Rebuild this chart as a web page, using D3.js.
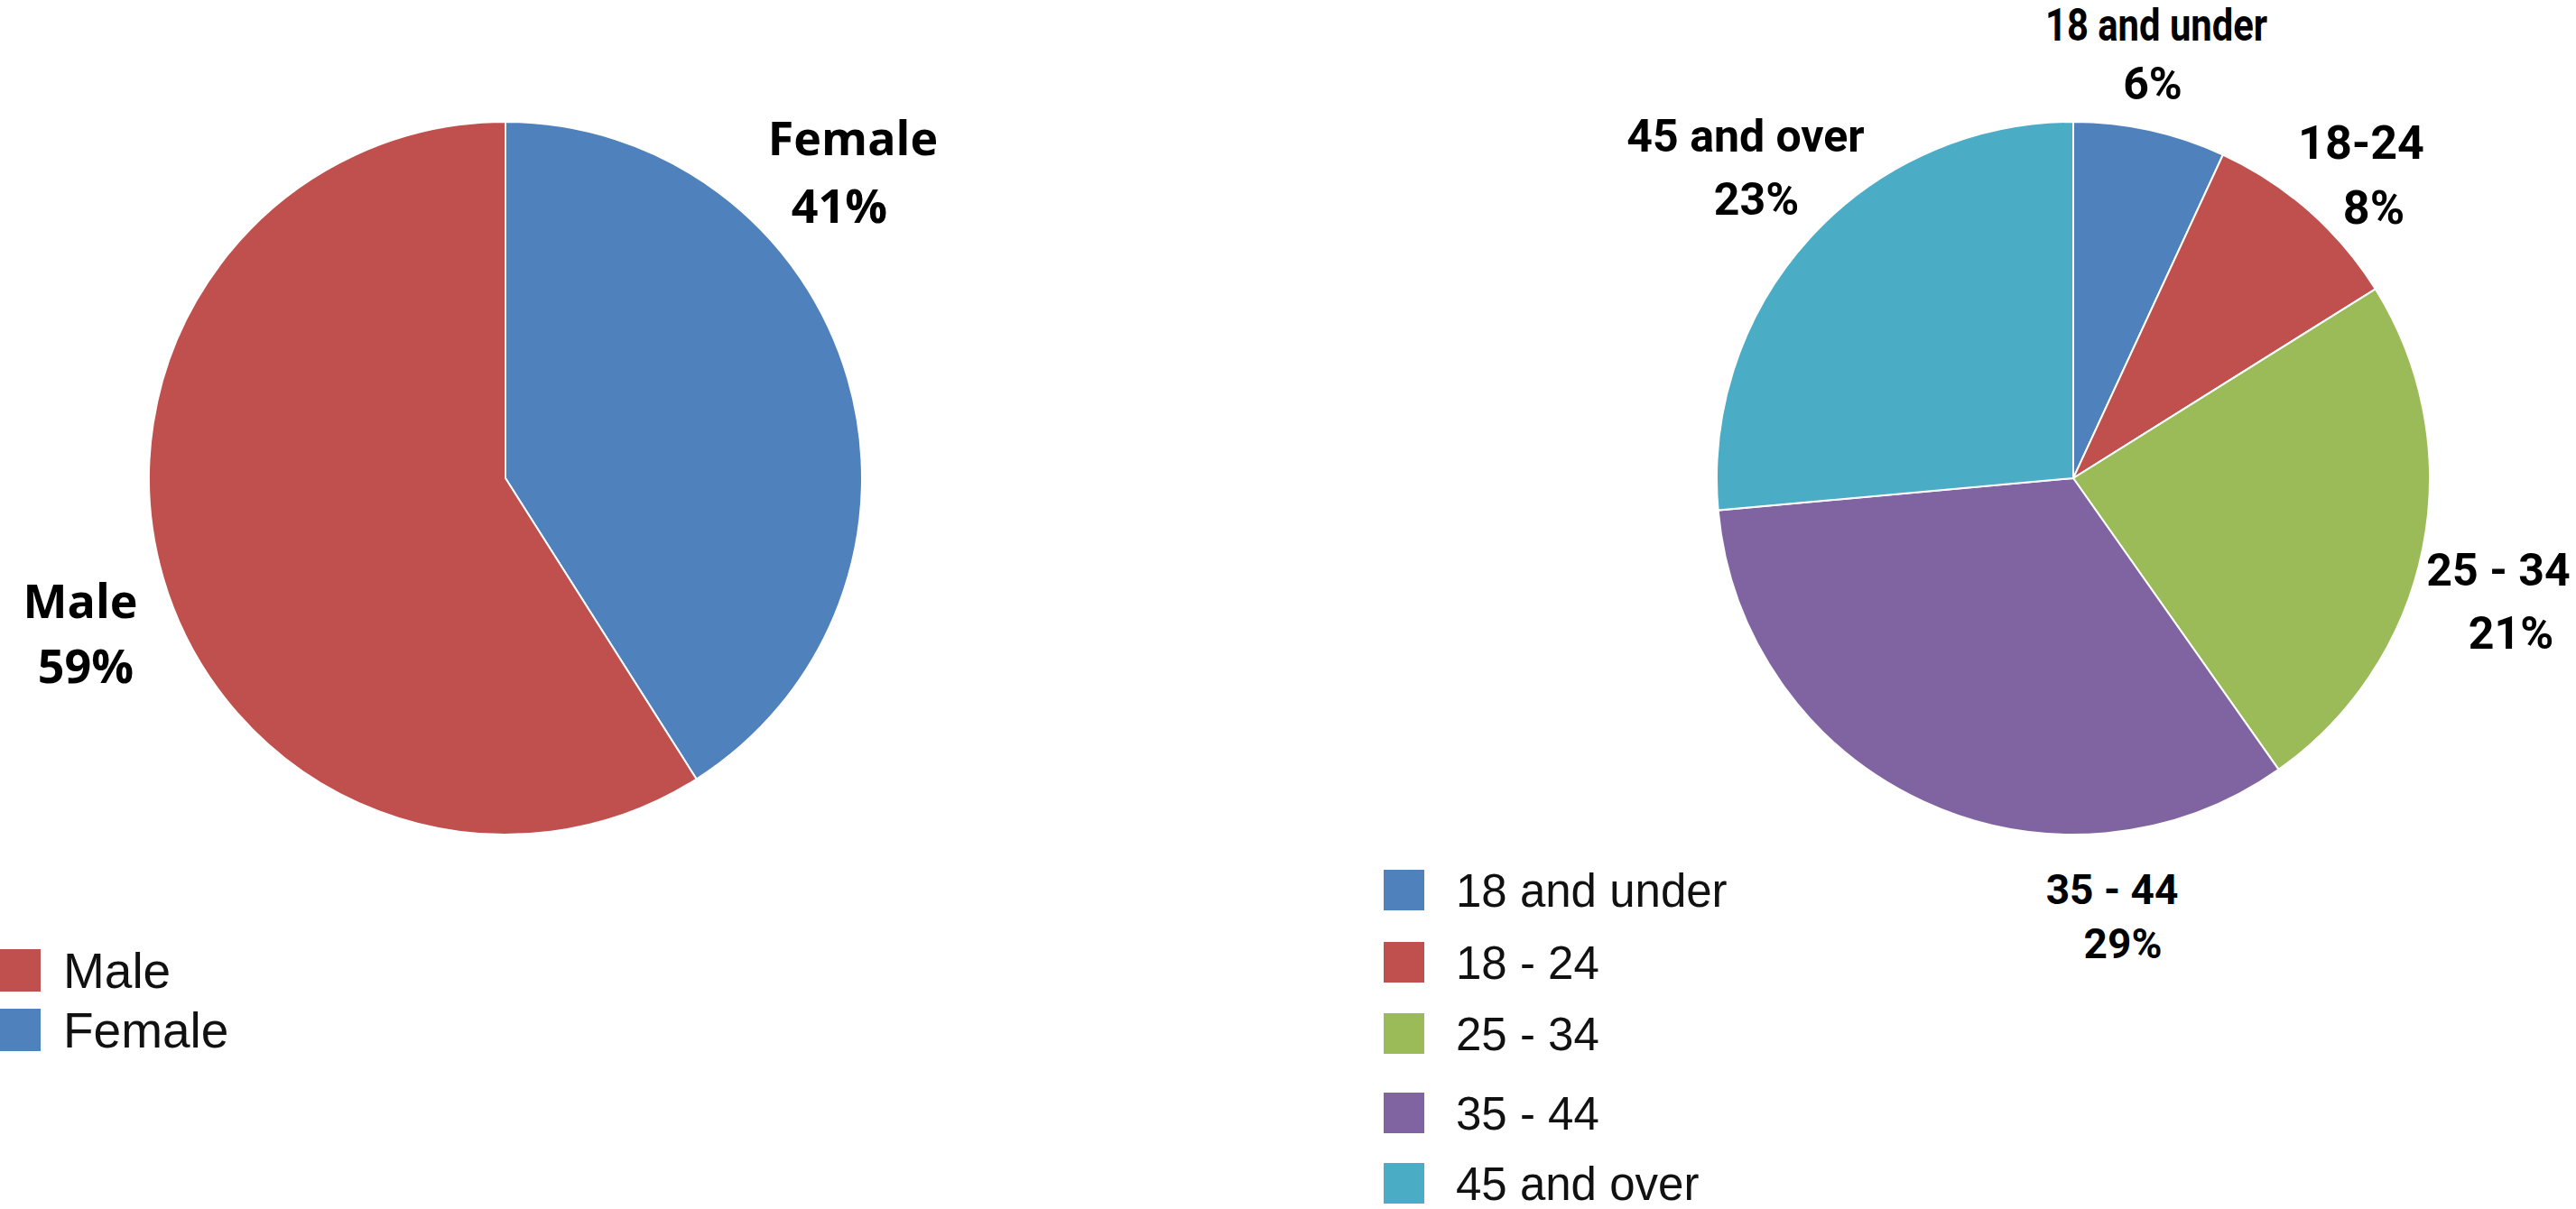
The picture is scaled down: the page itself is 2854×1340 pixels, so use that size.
<!DOCTYPE html>
<html>
<head>
<meta charset="utf-8">
<script src="https://cdn.jsdelivr.net/npm/d3@7"></script>
<style>
  body { margin: 0; background: #fff; }
  .slice-label { font-weight: 700; fill: #000; }
  .legend-label { font-family: 'Liberation Sans', Arial, sans-serif; fill: #111; }
</style>
</head>
<body>
<div id="chart"></div>
<script>
// gender split
const genderCategories = ['Male', 'Female'];
const genderValues = [59, 41];
const genderColors = ['#C0504D', '#4F81BD'];

// age groups (labels as printed on the pie, legend names slightly differ)
const ageCategories = ['18 and under', '18 - 24', '25 - 34', '35 - 44', '45 and over'];
const ageSliceNames = ['18 and under', '18-24', '25 - 34', '35 - 44', '45 and over'];
const ageValues = [6, 8, 21, 29, 23];
const ageColors = ['#4F81BD', '#C0504D', '#9BBB59', '#8064A2', '#4BACC6'];

const width = 2854;
const height = 1340;
const radius = 395;

const svg = d3.select('#chart')
  .append('svg')
  .attr('width', width)
  .attr('height', height)
  .attr('viewBox', `0 0 ${width} ${height}`);

const arc = d3.arc().innerRadius(0).outerRadius(radius);

// label offsets from the pie centre: [line1 dx, line1 dy, line2 dx, line2 dy]
const genderLabelPos = [[-471, 155, -465, 227], [385, -358, 370, -283]];
const ageLabelPos = [
  [92, -485, 88, -420],
  [319, -354, 333, -282],
  [471, 119, 485, 189],
  [43, 472, 55, 532],
  [-363, -362, -351, -292]
];
const ageLabelSize = [50, 52, 50, 46, 50];

function drawPie(cx, cy, arcs, colors) {
  const g = svg.append('g').attr('transform', `translate(${cx},${cy})`);
  g.selectAll('path')
    .data(arcs)
    .join('path')
    .attr('d', arc)
    .attr('fill', d => colors[d.data])
    .attr('stroke', '#fff')
    .attr('stroke-width', 2);
  return g;
}

// left pie: Female starts at 12 o'clock and runs clockwise, then Male
const genderPie = d3.pie().sort(null).value(i => genderValues[i]);
const gPie = drawPie(560, 530, genderPie([1, 0]), genderColors);

genderCategories.forEach((name, i) => {
  const p = genderLabelPos[i];
  const t = gPie.append('g')
    .attr('class', 'slice-label')
    .style('font-family', "'Open Sans', 'Noto Sans', sans-serif")
    .style('font-size', '52px')
    .attr('text-anchor', 'middle');
  t.append('text').attr('x', p[0]).attr('y', p[1]).text(name);
  t.append('text').attr('x', p[2]).attr('y', p[3]).text(genderValues[i] + '%');
});

// right pie
const agePie = d3.pie().sort(null).value(i => ageValues[i]);
const aPie = drawPie(2297, 530, agePie(d3.range(ageValues.length)), ageColors);

ageSliceNames.forEach((name, i) => {
  const p = ageLabelPos[i];
  const t = aPie.append('g')
    .attr('class', 'slice-label')
    .style('font-family', 'Roboto, sans-serif')
    .style('font-size', ageLabelSize[i] + 'px')
    .attr('text-anchor', 'middle');
  const first = t.append('text').attr('x', p[0]).attr('y', p[1]).text(name);
  if (name === '18 and under') {
    // narrow face in the original
    first.attr('textLength', 246).attr('lengthAdjust', 'spacingAndGlyphs');
  }
  t.append('text').attr('x', p[2]).attr('y', p[3]).text(ageValues[i] + '%');
});

// legends
function drawLegend(x, size, fontSize, names, colors, textX, tops) {
  const lg = svg.append('g');
  names.forEach((name, i) => {
    lg.append('rect')
      .attr('x', x).attr('y', tops[i])
      .attr('width', size).attr('height', size)
      .attr('fill', colors[i]);
    lg.append('text')
      .attr('class', 'legend-label')
      .attr('x', textX)
      .attr('y', tops[i] + size * 0.5)
      .attr('dy', '0.36em')
      .style('font-size', fontSize + 'px')
      .text(name);
  });
}

drawLegend(-2, 47, 55, genderCategories, genderColors, 70, [1052, 1118]);
drawLegend(1533, 45, 51, ageCategories, ageColors, 1613, [964, 1044, 1123, 1211, 1289]);
</script>
</body>
</html>
